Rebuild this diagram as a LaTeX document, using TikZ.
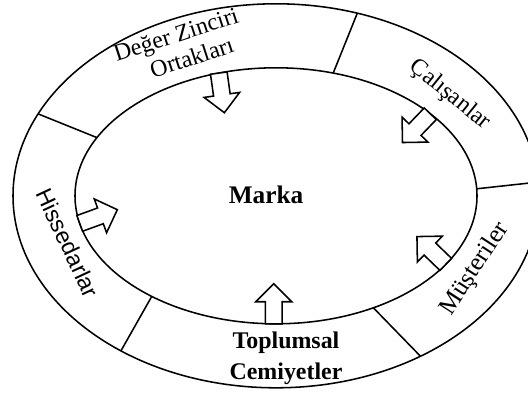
\documentclass[tikz,border=0pt]{standalone}
\usepackage{fontspec}
\setmainfont{Liberation Serif}
\newfontfamily\hisfont{Liberation Sans}
\usetikzlibrary{shapes.geometric,shapes.arrows}

\begin{document}
\begin{tikzpicture}[
  ring/.style={draw,ellipse,inner sep=0pt,outer sep=0pt,line width=1.1pt},
  divider/.style={line width=1.1pt},
  inarrow/.style={single arrow,draw,fill=white,line width=1.1pt,inner xsep=0pt,inner ysep=0.19cm,outer sep=0pt,minimum height=1cm,single arrow head extend=0.24cm,anchor=tail},
  part/.style={font=\fontsize{17}{19}\selectfont,align=center,inner sep=0pt}
]
\useasboundingbox (0,0) rectangle (13.2,9.925);
\clip (0,0) rectangle (13.2,9.925);
\node[ring,minimum width=13.15cm,minimum height=9.6cm] (outer) at (6.9,5.03) {};
\node[ring,minimum width=10.05cm,minimum height=6.4cm] (inner) at (6.9,5.03) {};
\draw[divider] (inner.65) -- (outer.66);
\draw[divider] (inner.2) -- (outer.3);
\draw[divider] (inner.311) -- (outer.312);
\draw[divider] (inner.219) -- (outer.225);
\draw[divider] (inner.162) -- (outer.161);
\node[font=\bfseries\fontsize{18}{22}\selectfont] (marka) at (6.65,5.05) {Marka};
\node[part,rotate=18] (deger) at (4.5,8.75) {Değer Zinciri\\\hspace*{0.4cm}Ortakları};
\node[part,rotate=-39] (calisan) at (11.25,7.55) {Çalışanlar};
\node[part,font=\fontsize{18}{20}\selectfont,rotate=57] (musteri) at (11.875,3.2) {Müşteriler};
\node[part,font=\bfseries\fontsize{17}{22}\selectfont] (toplum) at (7.15,0.975) {Toplumsal\\Cemiyetler};
\node[part,font=\hisfont\fontsize{16.5}{19}\selectfont,rotate=-65] (hisse) at (1.7,3.85) {Hissedarlar};
\node[inarrow,rotate=-82] (a1) at (inner.115) {};
\node[inarrow,rotate=-134] (a2) at (inner.28) {};
\node[inarrow,rotate=136] (a3) at (inner.338) {};
\node[inarrow,rotate=90] (a4) at (inner.269) {};
\node[inarrow,rotate=20] (a5) at (inner.188) {};
\end{tikzpicture}
\end{document}
